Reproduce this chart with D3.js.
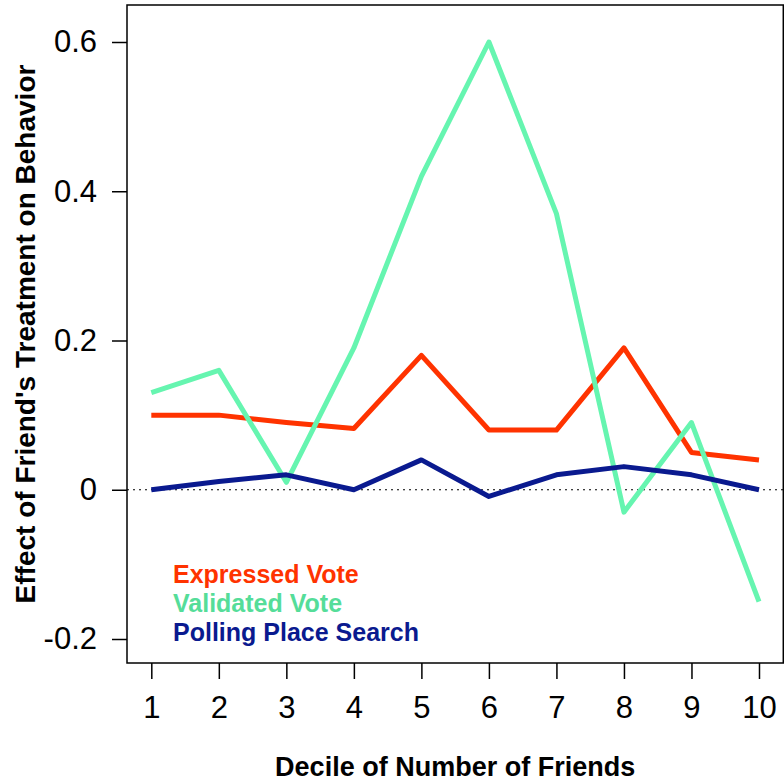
<!DOCTYPE html>
<html><head><meta charset="utf-8">
<script src="https://cdn.jsdelivr.net/npm/d3@7"></script>
<style>body{margin:0;background:#fff}svg{display:block}text{font-family:"Liberation Sans",Arial,sans-serif}</style>
</head><body><svg id="c" width="784" height="784"></svg>
<script>
const deciles = [1,2,3,4,5,6,7,8,9,10];
const expressedVote = [0.10,0.10,0.09,0.082,0.18,0.08,0.08,0.19,0.05,0.04];
const validatedVote = [0.13,0.16,0.01,0.19,0.42,0.60,0.37,-0.03,0.09,-0.15];
const pollingSearch = [0.0,0.011,0.02,0.0,0.04,-0.009,0.02,0.031,0.02,0.0];
const yTicks = [-0.2,0,0.2,0.4,0.6];
const yTickLabels = ["-0.2","0","0.2","0.4","0.6"];
const seriesNames = ["Expressed Vote","Validated Vote","Polling Place Search"];
const seriesColors = ["#FF3300","#66F5B0","#0A1A8F"];
const legendColors = ["#FF3300","#55DD99","#0A1A8F"];

const svg = d3.select("#c");
const L=127, R=783.3, T=5, B=663;
const x = d3.scaleLinear().domain([0.64,10.36]).range([L,R]);
const y = d3.scaleLinear().domain([-0.2,0.6]).range([639,42]);

svg.append("line").attr("x1",L).attr("x2",784).attr("y1",y(0)).attr("y2",y(0))
  .attr("stroke","#000").attr("stroke-width",1.2).attr("stroke-dasharray","2,4");

const line = d3.line().x((d,i)=>x(deciles[i])).y(d=>y(d));
[expressedVote,validatedVote,pollingSearch].forEach((s,k)=>{
  svg.append("path").datum(s).attr("d",line).attr("fill","none")
    .attr("stroke",seriesColors[k]).attr("stroke-width",5).attr("stroke-linejoin","round");
});

svg.append("rect").attr("x",L).attr("y",T).attr("width",R-L).attr("height",B-T)
  .attr("fill","none").attr("stroke","#000").attr("stroke-width",1.5);

const ya = svg.append("g").attr("transform",`translate(${L},0)`)
  .call(d3.axisLeft(y).tickValues(yTicks).tickFormat((d,i)=>yTickLabels[i]).tickSize(15).tickPadding(15));
ya.select(".domain").remove();
ya.selectAll("line").attr("stroke","#000").attr("stroke-width",1.5);
ya.selectAll("text").attr("font-size",31).attr("fill","#000").attr("font-family","Liberation Sans, Arial, sans-serif");

const xa = svg.append("g").attr("transform",`translate(0,${B})`)
  .call(d3.axisBottom(x).tickValues(deciles).tickFormat(d3.format("d")).tickSize(16).tickPadding(14));
xa.select(".domain").remove();
xa.selectAll("line").attr("stroke","#000").attr("stroke-width",1.5);
xa.selectAll("text").attr("font-size",31).attr("fill","#000").attr("font-family","Liberation Sans, Arial, sans-serif")
  .attr("dy",null).attr("y",55);

svg.append("text").attr("x",(L+R)/2).attr("y",776).attr("text-anchor","middle")
  .attr("font-size",27).attr("font-weight","bold").text("Decile of Number of Friends");
svg.append("text").attr("transform",`translate(35,${(T+B)/2}) rotate(-90)`).attr("text-anchor","middle")
  .attr("font-size",28).attr("font-weight","bold").text("Effect of Friend's Treatment on Behavior");

seriesNames.forEach((n,i)=>{
  svg.append("text").attr("x",173).attr("y",583+i*29).attr("font-size",25).attr("font-weight","bold")
    .attr("fill",legendColors[i]).text(n);
});
</script></body></html>
